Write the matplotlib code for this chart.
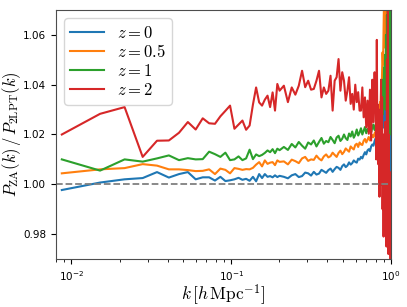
import matplotlib
matplotlib.use("Agg")
import matplotlib.pyplot as plt

plt.rcParams['mathtext.fontset'] = 'cm'

# wavenumbers k [h/Mpc]
k = [0.0087, 0.0151, 0.0215, 0.0279, 0.0343, 0.0407, 0.0471, 0.0535, 0.0599, 0.0663,
     0.0727, 0.0791, 0.0855, 0.0919, 0.0983, 0.1047, 0.1111, 0.1175, 0.1239, 0.1303,
     0.1367, 0.1431, 0.1495, 0.1559, 0.1623, 0.1687, 0.1751, 0.1815, 0.1879, 0.1943,
     0.2007,
     0.2135, 0.2263, 0.2391, 0.2519, 0.2647, 0.2775, 0.2903, 0.3031, 0.3159, 0.3287,
     0.3415, 0.3543, 0.3671, 0.3799, 0.3927, 0.4055, 0.4183, 0.4311, 0.4439, 0.4567,
     0.4695, 0.4823, 0.4951, 0.5079, 0.5207, 0.5335, 0.5463, 0.5591, 0.5719, 0.5847,
     0.5975, 0.6103, 0.6231, 0.6359, 0.6487, 0.6615, 0.6743, 0.6871, 0.6999, 0.7127,
     0.7255, 0.7383, 0.7511, 0.7639, 0.7767, 0.7895,
     0.8023, 0.8087, 0.8151, 0.8215, 0.8279, 0.8343, 0.8407, 0.8471, 0.8535, 0.8599,
     0.8663, 0.8727, 0.8791, 0.8855, 0.8919, 0.8983, 0.9047, 0.9111, 0.9175, 0.9239,
     0.9303, 0.9367, 0.9431, 0.9495, 0.9559, 0.9623, 0.9687, 0.9751, 0.9815, 0.9879,
     0.9943]

ratio_z0 = [0.9977, 1.0007, 1.0020, 1.0025, 1.0049, 1.0027, 1.0041, 1.0049, 1.0020, 1.0028,
            1.0028, 1.0015, 1.0030, 1.0013, 1.0016, 1.0020, 1.0026, 1.0018, 1.0022, 1.0014,
            1.0030, 1.0012, 1.0041, 1.0025, 1.0041, 1.0030, 1.0033, 1.0028, 1.0036, 1.0029,
            1.0034,
            1.0030, 1.0024, 1.0036, 1.0041, 1.0029, 1.0033, 1.0047, 1.0044, 1.0035, 1.0050,
            1.0039, 1.0043, 1.0058, 1.0052, 1.0046, 1.0057, 1.0063, 1.0050, 1.0061, 1.0070,
            1.0066, 1.0058, 1.0073, 1.0080, 1.0069, 1.0075, 1.0088, 1.0079, 1.0085, 1.0096,
            1.0090, 1.0087, 1.0103, 1.0099, 1.0110, 1.0104, 1.0118, 1.0129, 1.0120, 1.0136,
            1.0141, 1.0133, 1.0152, 1.0160, 1.0155, 1.0174,
            1.0185, 1.0178, 1.0196, 1.0204, 1.0190, 1.0212, 1.0222, 1.0205, 1.0230, 1.0218,
            1.0245, 1.0232, 1.0258, 1.0236, 1.0270, 1.0242, 1.0290, 1.0225, 1.0310, 1.0205,
            1.0330, 1.0180, 1.0360, 1.0150, 1.0400, 1.0100, 1.0450, 1.0050, 1.0550, 0.9980,
            0.9950]

ratio_z05 = [1.0044, 1.0060, 1.0065, 1.0081, 1.0075, 1.0060, 1.0060, 1.0057, 1.0053, 1.0054,
             1.0060, 1.0041, 1.0063, 1.0058, 1.0044, 1.0065, 1.0062, 1.0058, 1.0061, 1.0060,
             1.0066, 1.0079, 1.0089, 1.0072, 1.0096, 1.0082, 1.0087, 1.0089, 1.0077, 1.0096,
             1.0090,
             1.0092, 1.0080, 1.0099, 1.0093, 1.0085, 1.0104, 1.0110, 1.0094, 1.0100, 1.0098,
             1.0115, 1.0103, 1.0096, 1.0112, 1.0120, 1.0108, 1.0113, 1.0127, 1.0118, 1.0110,
             1.0126, 1.0135, 1.0121, 1.0130, 1.0144, 1.0137, 1.0131, 1.0152, 1.0145, 1.0140,
             1.0158, 1.0163, 1.0150, 1.0168, 1.0160, 1.0158, 1.0175, 1.0182, 1.0168, 1.0179,
             1.0190, 1.0176, 1.0186, 1.0198, 1.0189, 1.0205,
             1.0212, 1.0198, 1.0226, 1.0240, 1.0222, 1.0265, 1.0290, 1.0258, 1.0330, 1.0300,
             1.0380, 1.0340, 1.0450, 1.0530, 1.0480, 1.0620, 1.0750, 1.0550, 1.0800, 1.0650,
             1.0900, 1.0700, 1.0950, 1.0600, 1.1000, 1.0500, 1.1100, 1.0400, 1.1200, 1.0300,
             1.1300]

ratio_z1 = [1.0100, 1.0055, 1.0100, 1.0091, 1.0104, 1.0116, 1.0097, 1.0105, 1.0100, 1.0101,
            1.0131, 1.0121, 1.0110, 1.0127, 1.0097, 1.0100, 1.0112, 1.0097, 1.0104, 1.0139,
            1.0101, 1.0120, 1.0113, 1.0118, 1.0126, 1.0136, 1.0129, 1.0141, 1.0125, 1.0143,
            1.0137,
            1.0150, 1.0138, 1.0162, 1.0148, 1.0170, 1.0155, 1.0143, 1.0168, 1.0160, 1.0176,
            1.0152, 1.0170, 1.0186, 1.0163, 1.0174, 1.0169, 1.0190, 1.0178, 1.0165, 1.0188,
            1.0195, 1.0174, 1.0183, 1.0200, 1.0185, 1.0178, 1.0204, 1.0192, 1.0212, 1.0187,
            1.0199, 1.0220, 1.0196, 1.0208, 1.0225, 1.0200, 1.0215, 1.0230, 1.0205, 1.0222,
            1.0214, 1.0238, 1.0210, 1.0228, 1.0240, 1.0218,
            1.0232, 1.0205, 1.0245, 1.0220, 1.0252, 1.0212, 1.0262, 1.0230, 1.0280, 1.0238,
            1.0300, 1.0250, 1.0350, 1.0280, 1.0420, 1.0320, 1.0470, 1.0360, 1.0520, 1.0300,
            1.0600, 1.0350, 1.0680, 1.0400, 1.0750, 1.0450, 1.0850, 1.0300, 1.0950, 1.0200,
            1.1000]

ratio_z2 = [1.0200, 1.0283, 1.0310, 1.0110, 1.0175, 1.0176, 1.0207, 1.0250, 1.0220, 1.0265,
            1.0245, 1.0243, 1.0273, 1.0295, 1.0316, 1.0223, 1.0240, 1.0256, 1.0219, 1.0236,
            1.0320, 1.0389, 1.0329, 1.0316, 1.0340, 1.0356, 1.0310, 1.0369, 1.0296, 1.0403,
            1.0376,
            1.0396, 1.0330, 1.0389, 1.0360, 1.0396, 1.0456, 1.0390, 1.0416, 1.0380, 1.0383,
            1.0416, 1.0456, 1.0349, 1.0389, 1.0363, 1.0376, 1.0436, 1.0296, 1.0416, 1.0430,
            1.0503, 1.0376, 1.0450, 1.0416, 1.0336, 1.0376, 1.0430, 1.0323, 1.0363, 1.0300,
            1.0400, 1.0330, 1.0370, 1.0296, 1.0296, 1.0389, 1.0269, 1.0349, 1.0229, 1.0336,
            1.0203, 1.0380, 1.0176, 1.0420, 1.0250, 1.0450,
            1.0300, 1.0100, 1.0580, 1.0150, 1.0320, 1.0080, 1.0250, 0.9950, 1.0300, 1.0050,
            1.0420, 1.0000, 1.0350, 0.9900, 1.0200, 0.9790, 1.0150, 0.9880, 1.0250, 0.9830,
            1.0100, 0.9750, 1.0500, 0.9850, 1.0750, 0.9720, 1.0200, 0.9800, 1.0050, 0.9650,
            0.9500]

series = [(ratio_z0, r'$z=0$', '#1f77b4'),
          (ratio_z05, r'$z=0.5$', '#ff7f0e'),
          (ratio_z1, r'$z=1$', '#2ca02c'),
          (ratio_z2, r'$z=2$', '#d62728')]

fig = plt.figure(figsize=(4.07, 3.07), dpi=100)
ax = fig.add_axes([0.1376, 0.1564, 0.8231, 0.811])

for vals, lab, col in series:
    ax.plot(k, vals, color=col, lw=1.5, label=lab)

ax.axhline(1.0, color='gray', ls='--', lw=1.3)

ax.set_xscale('log')
ax.set_xlim(0.008, 1.0)
ax.set_ylim(0.97, 1.07)
ax.set_yticks([0.98, 1.00, 1.02, 1.04, 1.06])
ax.tick_params(labelsize=7.5)
for s in ax.spines.values():
    s.set_color('0.3')

ax.set_xlabel(r'$k\,[h\,{\rm Mpc}^{-1}]$', fontsize=12.5, labelpad=0)
ax.set_ylabel(r'$P_{\rm ZA}(k)\,/\,P_{\rm 2LPT}(k)$', fontsize=12, labelpad=0)

ax.legend(loc='upper left', fontsize=12, handlelength=2.0, labelspacing=0.05,
          handletextpad=0.8, borderpad=0.35)

fig.savefig('out.png', dpi=100)
